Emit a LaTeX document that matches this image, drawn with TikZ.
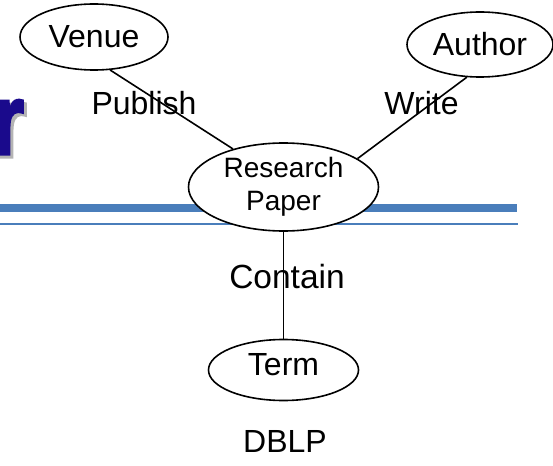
\documentclass[tikz,border=0pt]{standalone}
\usepackage{graphicx}
\usepackage{fontspec}
\setmainfont{Liberation Sans}
\newfontfamily\titlefont{Liberation Sans Bold}[FakeBold=3]
\usetikzlibrary{shapes.geometric}
\definecolor{barblue}{HTML}{4A7EBB}
\definecolor{titleblue}{HTML}{1A0A8C}
\definecolor{shadowgray}{HTML}{B4B4B4}
\tikzset{
  entity/.style={ellipse, draw=black, line width=1.6pt, fill=white, inner sep=0pt, align=center},
  rel/.style={inner sep=0pt, anchor=base, font=\fontsize{32}{38}\selectfont},
  conn/.style={draw=black, line width=1.6pt},
  bar/.style={fill=barblue, draw=none},
  titleletter/.style={inner sep=0pt, anchor=base east, font=\fontsize{100}{110}\titlefont}
}
\begin{document}
\begin{tikzpicture}[x=1pt,y=-1pt]
\clip (0,0) rectangle (553,465);
\fill[white] (0,0) rectangle (553,465);
% partial title letter
\node[titleletter, text=shadowgray] (rshadow) at (27,157) {\scalebox{0.8}[1]{r}};
\node[titleletter, text=titleblue] (rtitle) at (24,154) {\scalebox{0.8}[1]{r}};
% bars
\path[bar] (0,204) rectangle (517,212);
\path[bar] (0,222.5) rectangle (518,224.5);
% nodes
\node[entity, minimum width=148pt, minimum height=66pt, font=\fontsize{32}{38}\selectfont] (venue) at (94,37) {Venue};
\node[entity, minimum width=146pt, minimum height=65pt, font=\fontsize{32}{38}\selectfont] (author) at (480,44.5) {Author};
\node[entity, minimum width=190pt, minimum height=88pt, font=\fontsize{28}{33}\selectfont] (rp) at (283.5,187) {Research\\Paper};
\node[entity, minimum width=150pt, minimum height=61pt, text height=23pt, text depth=12pt, font=\fontsize{32}{38}\selectfont] (term) at (283.5,370) {Term};
% connectors
\draw[conn] (venue.-64) -- (rp.143);
\draw[conn] (author.-112) -- (rp.21);
\draw[conn] (rp.south) -- (term.north);
% labels
\node[rel] (publish) at (144,115) {Publish};
\node[rel] (write) at (421.5,115) {Write};
\node[rel, font=\fontsize{33.5}{38}\selectfont] (contain) at (287,288) {Contain};
\node[rel] (dblp) at (285,452) {DBLP};
\end{tikzpicture}
\end{document}
